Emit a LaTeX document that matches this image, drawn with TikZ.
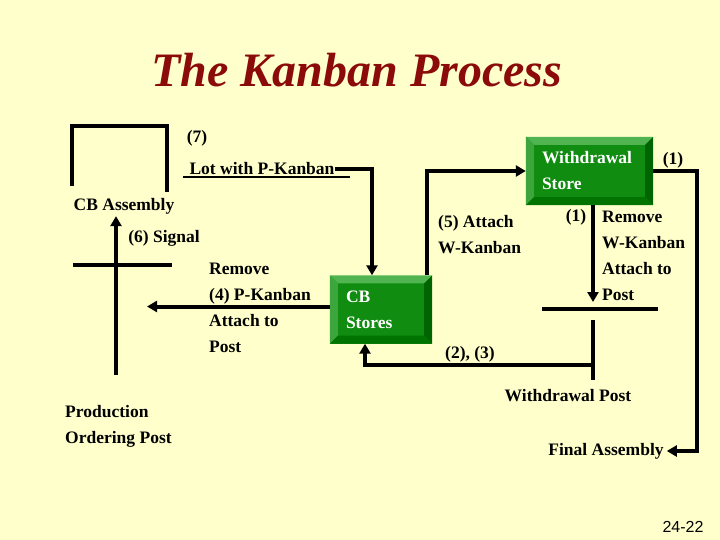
\documentclass[tikz,border=0pt]{standalone}
\usepackage{fontspec}
\setmainfont{Liberation Serif}
\setsansfont{Liberation Sans}
\usetikzlibrary{positioning, arrows.meta, calc}
\definecolor{paper}{RGB}{255,255,204}
\definecolor{titlered}{RGB}{139,10,10}
\definecolor{boxface}{RGB}{16,140,16}
\definecolor{boxlight}{RGB}{80,180,80}
\definecolor{boxside}{RGB}{60,165,60}
\definecolor{boxdark}{RGB}{0,100,0}
\definecolor{boxbottom}{RGB}{0,115,0}
\tikzset{
  lbl/.style={font=\fontsize{17.5}{26}\selectfont\bfseries, inner sep=0pt, align=left},
  store/.style={lbl, fill=boxface, text=white, text width=#1, inner xsep=16pt, minimum height=68pt},
  flow/.style={line width=4pt, -{Triangle[length=10pt,width=11pt]}},
  bar/.style={line width=4pt}
}
% bevelled edge of a store box
\newcommand{\bevel}[1]{%
  \fill[boxlight] (#1.north west) -- (#1.north east) -- ($(#1.north east)+(-8,8)$) -- ($(#1.north west)+(8,8)$) -- cycle;
  \fill[boxside] (#1.north west) -- (#1.south west) -- ($(#1.south west)+(8,-8)$) -- ($(#1.north west)+(8,8)$) -- cycle;
  \fill[boxdark] (#1.north east) -- (#1.south east) -- ($(#1.south east)+(-8,-8)$) -- ($(#1.north east)+(-8,8)$) -- cycle;
  \fill[boxbottom] (#1.south west) -- (#1.south east) -- ($(#1.south east)+(-8,-8)$) -- ($(#1.south west)+(8,-8)$) -- cycle;
}

\begin{document}
\begin{tikzpicture}[x=1pt, y=-1pt]
\fill[paper] (0,0) rectangle (720,540);
\useasboundingbox (0,0) rectangle (720,540);

\node[text=titlered, font=\fontsize{48}{52}\selectfont\bfseries\itshape] at (357,70) (title) {The Kanban Process};

% boxes
\node[store=70pt] at (381,309.5) (stores) {CB\\Stores};
\bevel{stores}
\node[store=95pt] at (589.5,171) (wstore) {Withdrawal\\Store};
\bevel{wstore}

% labels
\node[lbl] at (197,138) (seven) {(7)};
\node[lbl] at (262,169) (lot) {Lot with P-Kanban};
\draw[line width=2pt] (183,177) -- (350,177);
\node[lbl] at (124,206) (cba) {CB Assembly};
\node[lbl] at (164,238) (signal) {(6) Signal};
\node[lbl, anchor=west] at (209,307.5) (remp) {Remove\\(4) P-Kanban\\Attach to\\Post};
\node[lbl, anchor=west] at (438,235) (attw) {(5) Attach\\W-Kanban};
\node[lbl] at (673,160) (one) {(1)};
\node[lbl] at (576,217) (onea) {(1)};
\node[lbl, anchor=west] at (602,256) (remw) {Remove\\W-Kanban\\Attach to\\Post};
\node[lbl] at (470,354) (twothree) {(2), (3)};
\node[lbl] at (568,396) (wpostlbl) {Withdrawal Post};
\node[lbl, anchor=west] at (65,426.5) (ppostlbl) {Production\\Ordering Post};
\node[lbl] at (606,451) (final) {Final Assembly};
\node[font=\sffamily\fontsize{16}{18}\selectfont, inner sep=0pt] at (683,527) (page) {24-22};

% CB assembly and the posts
\draw[bar] (72,186) -- (72,126) -- (167,126) -- (167,192);
\draw[bar] (73,265) -- (172,265);
\coordinate (sig) at (116,375);
\coordinate (ppost) at (147,306);
\draw[bar] (542,309) -- (658,309);
\draw[bar] (593,320) -- (593,380);
\coordinate (wpost) at (593,365);
\coordinate (wtop) at (593,302);
\coordinate (rt) at (697,451);

% flows
\draw[flow] (sig) -- ([yshift=-2pt]sig |- cba.south);
\draw[flow] (lot.east) -| ([xshift=-9pt]stores.north);
\draw[flow] ([yshift=3pt]stores.west) -- ([yshift=3pt]stores.west -| ppost);
\draw[flow] ([xshift=-5pt]stores.north east) |- (wstore.west);
\draw[flow] (wstore.south -| wtop) -- (wtop);
\draw[flow] (wstore.east) -| (rt) -- ([xshift=3pt]final.east);
\draw[flow] (wpost) -| ([xshift=-16pt]stores.south);
\end{tikzpicture}
\end{document}
